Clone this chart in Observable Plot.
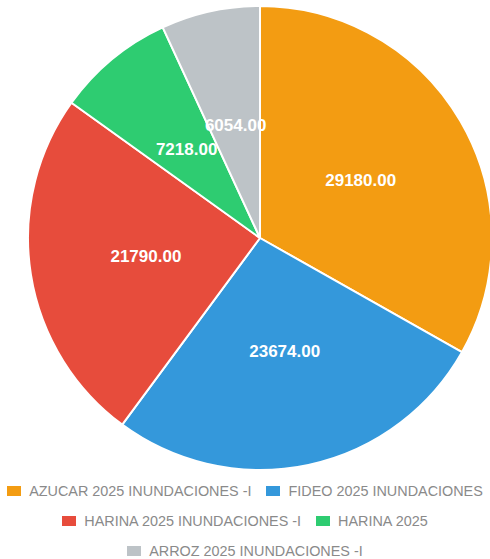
<!DOCTYPE html>
<html>
<head>
<meta charset="utf-8">
<script src="https://cdn.jsdelivr.net/npm/d3@7"></script>
<script src="https://cdn.jsdelivr.net/npm/@observablehq/plot@0.6"></script>
<style>
  html, body { margin: 0; padding: 0; background: #fff; }
  #chart svg { display: block; }
  .legend { width: 490px; display: flex; flex-wrap: wrap; justify-content: center; column-gap: 15px;
    font-family: "Liberation Sans", Arial, Helvetica, sans-serif; font-size: 14.4px; color: #8a8a8a; }
  .legend .item { display: inline-flex; align-items: center; height: 30px; white-space: nowrap; }
  .legend .box { display: inline-block; width: 14px; height: 10px; margin-right: 8px; }
</style>
</head>
<body>
<div id="chart"></div>
<script>
const categories = [
  "AZUCAR 2025 INUNDACIONES -I",
  "FIDEO 2025 INUNDACIONES",
  "HARINA 2025 INUNDACIONES -I",
  "HARINA 2025",
  "ARROZ 2025 INUNDACIONES -I"
];
const values = [29180, 23674, 21790, 7218, 6054];
const colors = ["#f39c12", "#3498db", "#e74c3c", "#2ecc71", "#bdc3c7"];

const W = 490, H = 476;
const xOpts = {type: "linear", domain: [-1, 1], range: [28, 492]};
const yOpts = {type: "linear", domain: [-1, 1], range: [470, 6]};
const colorOpts = {type: "ordinal", domain: categories, range: colors};
const xS = Plot.scale({x: xOpts});
const yS = Plot.scale({y: yOpts});
const cS = Plot.scale({color: colorOpts});

const arcs = d3.pie().sort(null).value(d => d.value)(
  categories.map((c, i) => ({category: c, value: values[i]}))
);
const labels = arcs.map(a => {
  const m = (a.startAngle + a.endAngle) / 2;
  return {x: 0.5 * Math.sin(m), y: 0.5 * Math.cos(m), text: a.data.value.toFixed(2)};
});

function slicesMark(index, scales) {
  const fx = scales && typeof scales.x === "function" ? scales.x : (v => xS.apply(v));
  const fy = scales && typeof scales.y === "function" ? scales.y : (v => yS.apply(v));
  const fc = scales && typeof scales.color === "function" ? scales.color : (v => cS.apply(v));
  const cx = fx(0), cy = fy(0), r = fx(1) - fx(0);
  const arcGen = d3.arc().innerRadius(0).outerRadius(r);
  const g = d3.create("svg:g").attr("transform", `translate(${cx},${cy})`);
  g.selectAll("path").data(arcs).join("path")
    .attr("d", arcGen)
    .attr("fill", d => fc(d.data.category))
    .attr("stroke", "#fff")
    .attr("stroke-width", 2)
    .attr("stroke-linejoin", "round");
  return g.node();
}

const plot = Plot.plot({
  width: W,
  height: H,
  margin: 0,
  x: {...xOpts, axis: null},
  y: {...yOpts, axis: null},
  color: colorOpts,
  style: {background: "#fff"},
  marks: [
    slicesMark,
    Plot.text(labels, {
      x: "x", y: "y", text: "text",
      fill: "#fff", fontSize: 17, fontWeight: "bold",
      fontFamily: "Liberation Sans, Arial, Helvetica, sans-serif"
    })
  ]
});
document.getElementById("chart").appendChild(plot);

const legend = document.createElement("div");
legend.className = "legend";
categories.forEach(c => {
  const item = document.createElement("span");
  item.className = "item";
  const box = document.createElement("span");
  box.className = "box";
  box.style.background = plot.scale("color").apply(c);
  item.appendChild(box);
  item.appendChild(document.createTextNode(c));
  legend.appendChild(item);
});
document.body.appendChild(legend);
</script>
</body>
</html>
